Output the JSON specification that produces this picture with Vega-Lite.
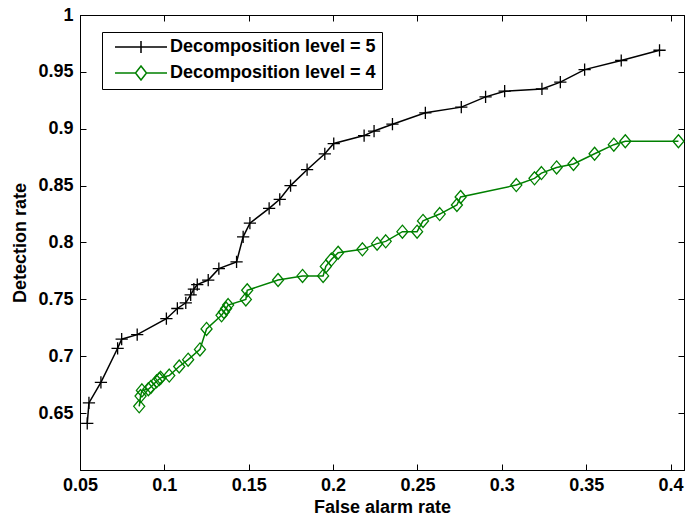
{
  "$schema": "https://vega.github.io/schema/vega-lite/v6.json",
  "autosize": "none",
  "width": 604,
  "height": 455,
  "padding": {"left": 80, "top": 15, "right": 2, "bottom": 51},
  "background": "white",
  "config": {
    "view": {"stroke": "black", "strokeWidth": 1},
    "font": "Liberation Sans",
    "axis": {
      "grid": false,
      "domainColor": "black",
      "tickColor": "black",
      "labelColor": "black",
      "titleColor": "black",
      "labelFont": "Liberation Sans",
      "titleFont": "Liberation Sans",
      "labelFontSize": 18,
      "titleFontSize": 18,
      "labelFontWeight": "bold",
      "titleFontWeight": "bold",
      "labelFlush": false
    },
    "legend": {
      "orient": "none",
      "legendX": 22,
      "legendY": 17,
      "strokeColor": "black",
      "fillColor": "white",
      "cornerRadius": 0,
      "padding": 6,
      "labelFont": "Liberation Sans",
      "labelFontSize": 18,
      "labelFontWeight": "bold",
      "labelColor": "black",
      "labelLimit": 0,
      "labelOffset": 44,
      "symbolSize": 196,
      "symbolStrokeWidth": 1.5,
      "rowPadding": 7
    }
  },
  "data": {
    "values": [
      {"series": "Decomposition level = 5", "far": 0.0543, "dr": 0.641},
      {"series": "Decomposition level = 5", "far": 0.0553, "dr": 0.659},
      {"series": "Decomposition level = 5", "far": 0.0624, "dr": 0.677},
      {"series": "Decomposition level = 5", "far": 0.0723, "dr": 0.707},
      {"series": "Decomposition level = 5", "far": 0.0747, "dr": 0.715},
      {"series": "Decomposition level = 5", "far": 0.0839, "dr": 0.719},
      {"series": "Decomposition level = 5", "far": 0.1012, "dr": 0.733},
      {"series": "Decomposition level = 5", "far": 0.1077, "dr": 0.742},
      {"series": "Decomposition level = 5", "far": 0.1127, "dr": 0.747},
      {"series": "Decomposition level = 5", "far": 0.1156, "dr": 0.754},
      {"series": "Decomposition level = 5", "far": 0.1175, "dr": 0.759},
      {"series": "Decomposition level = 5", "far": 0.1195, "dr": 0.763},
      {"series": "Decomposition level = 5", "far": 0.126, "dr": 0.767},
      {"series": "Decomposition level = 5", "far": 0.1323, "dr": 0.777},
      {"series": "Decomposition level = 5", "far": 0.1428, "dr": 0.783},
      {"series": "Decomposition level = 5", "far": 0.1467, "dr": 0.805},
      {"series": "Decomposition level = 5", "far": 0.1507, "dr": 0.817},
      {"series": "Decomposition level = 5", "far": 0.1621, "dr": 0.83},
      {"series": "Decomposition level = 5", "far": 0.1684, "dr": 0.838},
      {"series": "Decomposition level = 5", "far": 0.1748, "dr": 0.85},
      {"series": "Decomposition level = 5", "far": 0.1846, "dr": 0.864},
      {"series": "Decomposition level = 5", "far": 0.1951, "dr": 0.878},
      {"series": "Decomposition level = 5", "far": 0.2004, "dr": 0.887},
      {"series": "Decomposition level = 5", "far": 0.2184, "dr": 0.894},
      {"series": "Decomposition level = 5", "far": 0.2243, "dr": 0.898},
      {"series": "Decomposition level = 5", "far": 0.2352, "dr": 0.904},
      {"series": "Decomposition level = 5", "far": 0.2547, "dr": 0.914},
      {"series": "Decomposition level = 5", "far": 0.276, "dr": 0.919},
      {"series": "Decomposition level = 5", "far": 0.2904, "dr": 0.928},
      {"series": "Decomposition level = 5", "far": 0.3017, "dr": 0.933},
      {"series": "Decomposition level = 5", "far": 0.3238, "dr": 0.935},
      {"series": "Decomposition level = 5", "far": 0.3347, "dr": 0.941},
      {"series": "Decomposition level = 5", "far": 0.3491, "dr": 0.952},
      {"series": "Decomposition level = 5", "far": 0.3708, "dr": 0.96},
      {"series": "Decomposition level = 5", "far": 0.3935, "dr": 0.969},
      {"series": "Decomposition level = 4", "far": 0.0851, "dr": 0.656},
      {"series": "Decomposition level = 4", "far": 0.0859, "dr": 0.665},
      {"series": "Decomposition level = 4", "far": 0.0867, "dr": 0.67},
      {"series": "Decomposition level = 4", "far": 0.0905, "dr": 0.671},
      {"series": "Decomposition level = 4", "far": 0.092, "dr": 0.673},
      {"series": "Decomposition level = 4", "far": 0.0954, "dr": 0.678},
      {"series": "Decomposition level = 4", "far": 0.097, "dr": 0.68},
      {"series": "Decomposition level = 4", "far": 0.0978, "dr": 0.681},
      {"series": "Decomposition level = 4", "far": 0.1029, "dr": 0.683},
      {"series": "Decomposition level = 4", "far": 0.1088, "dr": 0.691},
      {"series": "Decomposition level = 4", "far": 0.1141, "dr": 0.697},
      {"series": "Decomposition level = 4", "far": 0.1211, "dr": 0.706},
      {"series": "Decomposition level = 4", "far": 0.125, "dr": 0.724},
      {"series": "Decomposition level = 4", "far": 0.1339, "dr": 0.736},
      {"series": "Decomposition level = 4", "far": 0.1353, "dr": 0.739},
      {"series": "Decomposition level = 4", "far": 0.1366, "dr": 0.742},
      {"series": "Decomposition level = 4", "far": 0.1378, "dr": 0.745},
      {"series": "Decomposition level = 4", "far": 0.1483, "dr": 0.75},
      {"series": "Decomposition level = 4", "far": 0.1491, "dr": 0.758},
      {"series": "Decomposition level = 4", "far": 0.1674, "dr": 0.767},
      {"series": "Decomposition level = 4", "far": 0.1819, "dr": 0.7706},
      {"series": "Decomposition level = 4", "far": 0.1941, "dr": 0.7706},
      {"series": "Decomposition level = 4", "far": 0.1957, "dr": 0.779},
      {"series": "Decomposition level = 4", "far": 0.199, "dr": 0.785},
      {"series": "Decomposition level = 4", "far": 0.203, "dr": 0.791},
      {"series": "Decomposition level = 4", "far": 0.2174, "dr": 0.794},
      {"series": "Decomposition level = 4", "far": 0.2261, "dr": 0.799},
      {"series": "Decomposition level = 4", "far": 0.2312, "dr": 0.801},
      {"series": "Decomposition level = 4", "far": 0.2411, "dr": 0.8095},
      {"series": "Decomposition level = 4", "far": 0.2498, "dr": 0.8095},
      {"series": "Decomposition level = 4", "far": 0.2533, "dr": 0.819},
      {"series": "Decomposition level = 4", "far": 0.2632, "dr": 0.825},
      {"series": "Decomposition level = 4", "far": 0.2734, "dr": 0.833},
      {"series": "Decomposition level = 4", "far": 0.2756, "dr": 0.84},
      {"series": "Decomposition level = 4", "far": 0.3086, "dr": 0.8505},
      {"series": "Decomposition level = 4", "far": 0.3194, "dr": 0.8564},
      {"series": "Decomposition level = 4", "far": 0.3235, "dr": 0.861},
      {"series": "Decomposition level = 4", "far": 0.3325, "dr": 0.866},
      {"series": "Decomposition level = 4", "far": 0.3425, "dr": 0.869},
      {"series": "Decomposition level = 4", "far": 0.355, "dr": 0.878},
      {"series": "Decomposition level = 4", "far": 0.3664, "dr": 0.886},
      {"series": "Decomposition level = 4", "far": 0.3732, "dr": 0.889},
      {"series": "Decomposition level = 4", "far": 0.4047, "dr": 0.889}
    ]
  },
  "layer": [
    {
      "mark": {"type": "line", "strokeWidth": 1.5, "clip": true},
      "encoding": {
        "x": {
          "field": "far", "type": "quantitative",
          "scale": {"domain": [0.05, 0.408], "nice": false, "zero": false},
          "axis": {
            "orient": "bottom",
            "values": [0.05, 0.1, 0.15, 0.2, 0.25, 0.3, 0.35, 0.4],
            "format": "~g",
            "tickSize": -6,
            "labelPadding": 12,
            "title": "False alarm rate",
            "titlePadding": 4
          }
        },
        "y": {
          "field": "dr", "type": "quantitative",
          "scale": {"domain": [0.6, 1], "nice": false, "zero": false},
          "axis": {
            "orient": "left",
            "values": [0.65, 0.7, 0.75, 0.8, 0.85, 0.9, 0.95, 1],
            "format": "~g",
            "tickSize": -6,
            "labelPadding": 13,
            "title": "Detection rate",
            "titlePadding": 8
          }
        },
        "color": {
          "field": "series", "type": "nominal",
          "scale": {"domain": ["Decomposition level = 5", "Decomposition level = 4"], "range": ["black", "#008000"]},
          "legend": {
            "title": null,
            "encode": {
              "symbols": {
                "update": {
                  "shape": {"signal": "datum.value === 'Decomposition level = 5' ? 'M-0.286,0H7.143M3.429,-0.857V0.857' : 'M-0.286,0H2.643M4.214,0H7.143M3.429,-1L4.214,0L3.429,1L2.643,0Z'"},
                  "fill": {"value": "transparent"}
                }
              }
            }
          }
        }
      }
    },
    {
      "transform": [{"filter": "datum.series === 'Decomposition level = 5'"}],
      "mark": {"type": "point", "filled": false, "strokeWidth": 1.3, "opacity": 1, "size": 150, "stroke": "black", "shape": "M-1,0H1M0,-1V1"},
      "encoding": {
        "x": {
          "field": "far", "type": "quantitative",
          "axis": {"orient": "top", "values": [0.05, 0.1, 0.15, 0.2, 0.25, 0.3, 0.35, 0.4], "labels": false, "title": null, "tickSize": -6, "domain": true}
        },
        "y": {
          "field": "dr", "type": "quantitative",
          "axis": {"orient": "right", "values": [0.65, 0.7, 0.75, 0.8, 0.85, 0.9, 0.95, 1], "labels": false, "title": null, "tickSize": -6, "domain": true}
        }
      }
    },
    {
      "transform": [{"filter": "datum.series === 'Decomposition level = 4'"}],
      "mark": {"type": "point", "filled": false, "strokeWidth": 1.3, "opacity": 1, "size": 169, "stroke": "#008000", "shape": "M0,-1L0.85,0L0,1L-0.85,0Z"},
      "encoding": {
        "x": {"field": "far", "type": "quantitative", "axis": null},
        "y": {"field": "dr", "type": "quantitative", "axis": null}
      }
    }
  ],
  "resolve": {"axis": {"x": "independent", "y": "independent"}}
}
